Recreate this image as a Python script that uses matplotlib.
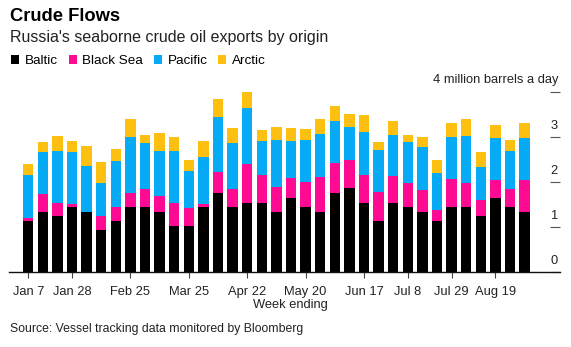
import matplotlib
matplotlib.use("Agg")
import matplotlib.pyplot as plt
from matplotlib.patches import Patch

plt.rcParams['font.family'] = ['Liberation Sans', 'DejaVu Sans']

# week ending dates (2018)
weeks = ['Jan 7', 'Jan 14', 'Jan 21', 'Jan 28', 'Feb 4', 'Feb 11', 'Feb 18', 'Feb 25',
         'Mar 4', 'Mar 11', 'Mar 18', 'Mar 25', 'Apr 1', 'Apr 8', 'Apr 15', 'Apr 22',
         'Apr 29', 'May 6', 'May 13', 'May 20', 'May 27', 'Jun 3', 'Jun 10', 'Jun 17',
         'Jun 24', 'Jul 1', 'Jul 8', 'Jul 15', 'Jul 22', 'Jul 29', 'Aug 5', 'Aug 12',
         'Aug 19', 'Aug 26', 'Sep 2']
shown_weeks = ['Jan 7', 'Jan 28', 'Feb 25', 'Mar 25', 'Apr 22', 'May 20', 'Jun 17',
               'Jul 8', 'Jul 29', 'Aug 19']

# million barrels a day
baltic = [1.13, 1.33, 1.24, 1.44, 1.34, 0.93, 1.13, 1.44, 1.44, 1.33, 1.02, 1.02,
          1.44, 1.76, 1.44, 1.54, 1.54, 1.34, 1.64, 1.44, 1.33, 1.76, 1.86, 1.54,
          1.13, 1.54, 1.44, 1.33, 1.13, 1.44, 1.44, 1.24, 1.64, 1.44, 1.34]
black_sea = [0.08, 0.41, 0.30, 0.08, 0.00, 0.31, 0.31, 0.32, 0.40, 0.35, 0.52, 0.40,
             0.07, 0.47, 0.40, 0.86, 0.62, 0.55, 0.44, 0.56, 0.79, 0.67, 0.62, 0.62,
             0.64, 0.60, 0.54, 0.50, 0.24, 0.62, 0.54, 0.36, 0.40, 0.40, 0.70]
pacific = [0.94, 0.93, 1.15, 1.14, 1.02, 0.73, 1.02, 1.24, 1.02, 1.02, 1.15, 0.82,
           1.05, 1.22, 1.03, 1.24, 0.75, 1.04, 0.84, 0.94, 0.95, 0.93, 0.74, 0.96,
           0.95, 0.90, 0.90, 0.94, 0.84, 0.95, 1.04, 0.74, 0.94, 0.84, 0.94]
arctic = [0.26, 0.22, 0.33, 0.26, 0.44, 0.47, 0.27, 0.41, 0.19, 0.38, 0.31, 0.24,
          0.36, 0.39, 0.32, 0.35, 0.24, 0.30, 0.27, 0.23, 0.33, 0.33, 0.30, 0.36,
          0.18, 0.31, 0.16, 0.22, 0.27, 0.31, 0.38, 0.32, 0.28, 0.26, 0.33]

series = [('Baltic', baltic, '#000000'),
          ('Black Sea', black_sea, '#ff0a93'),
          ('Pacific', pacific, '#06aaf5'),
          ('Arctic', arctic, '#fdc010')]

W, H = 571, 347
fig = plt.figure(figsize=(W / 100, H / 100), dpi=100)
ax = fig.add_axes([9 / W, 1 - 272 / H, (560 - 9) / W, (272 - 92) / H])

bottom = [0.0] * len(weeks)
for name, vals, col in series:
    ax.bar(weeks, vals, bottom=bottom, width=0.71, color=col, linewidth=0)
    bottom = [b + v for b, v in zip(bottom, vals)]

ax.set_xlim(-1.32, len(weeks) + 1.43)
ax.set_ylim(0, 4)

for s in ['top', 'left', 'right']:
    ax.spines[s].set_visible(False)
ax.spines['bottom'].set_color('#111111')
ax.spines['bottom'].set_linewidth(1.0)

ax.set_xticks(shown_weeks)
ax.tick_params(axis='x', length=4, width=0.8, color='#444444', pad=6,
               labelsize=9.3, labelcolor='#222222')

ax.set_yticks([0, 1, 2, 3, 4])
ax.yaxis.tick_right()
ax.tick_params(axis='y', direction='in', length=7.5, width=0.8, color='#555555',
               labelright=False)
for v in [0, 1, 2, 3]:
    ax.annotate(str(v), xy=(1, v), xycoords=('axes fraction', 'data'),
                xytext=(-1.4, 6), textcoords='offset points',
                ha='right', va='baseline', fontsize=9.3, color='#222222')
ax.annotate('4 million barrels a day', xy=(1, 4), xycoords=('axes fraction', 'data'),
            xytext=(-1.4, 6.5), textcoords='offset points',
            ha='right', va='baseline', fontsize=9.3, color='#222222')

fig.text(10 / W, 1 - 20.7 / H, 'Crude Flows', fontsize=13.2, fontweight='bold',
         va='baseline', color='#000000')
fig.text(10 / W, 1 - 41.7 / H, "Russia's seaborne crude oil exports by origin",
         fontsize=11.5, va='baseline', color='#222222')

handles = [Patch(facecolor=c, edgecolor='none', label=n) for n, _, c in series]
fig.legend(handles=handles, loc='upper left', bbox_to_anchor=(11 / W, 1 - 55 / H),
           ncol=4, frameon=False, fontsize=9.7, handlelength=0.6, handleheight=0.6,
           handletextpad=0.42, columnspacing=0.8, borderpad=0, borderaxespad=0)

fig.text(290 / W, 1 - 305 / H, 'Week ending', fontsize=9.3, ha='center', va='center',
         color='#222222')
fig.text(10 / W, 1 - 329 / H, 'Source: Vessel tracking data monitored by Bloomberg',
         fontsize=8.8, va='center', color='#222222')

fig.savefig('out.png', dpi=100)
